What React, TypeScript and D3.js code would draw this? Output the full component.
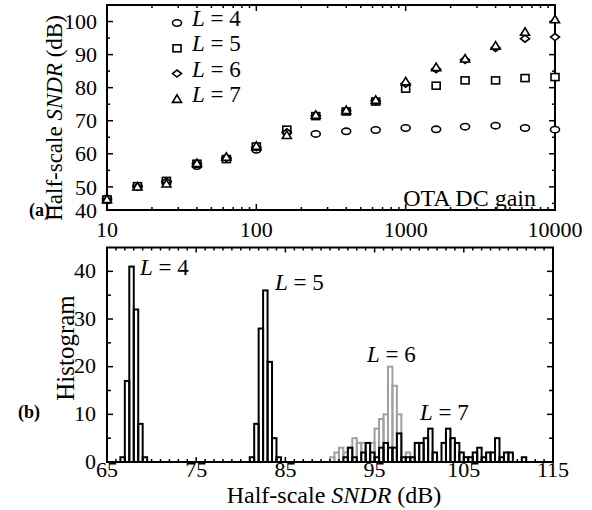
import React from "react";
import { scaleLog, scaleLinear, range } from "d3";

// ---- data: (a) SNDR vs OTA DC gain ----
const gain = [10, 16, 25, 40, 63, 100, 160, 250, 400, 630, 1000, 1600, 2500, 4000, 6300, 10000];
const sndrL4 = [46.5, 50.2, 51.5, 56.3, 58.5, 61.2, 66.5, 66.0, 66.8, 67.2, 67.8, 67.4, 68.2, 68.5, 67.8, 67.3];
const sndrL5 = [46.2, 50.2, 51.8, 57.0, 58.4, 62.2, 67.3, 71.4, 72.8, 75.8, 79.7, 80.6, 82.2, 82.2, 82.9, 83.2];
const sndrL6 = [46.0, 50.0, 51.6, 57.0, 58.7, 62.0, 66.5, 71.5, 73.0, 76.0, 81.2, 85.6, 88.4, 92.0, 94.8, 95.3];
const sndrL7 = [46.3, 50.1, 51.0, 57.2, 59.1, 62.4, 65.7, 71.8, 73.2, 76.3, 81.9, 86.2, 88.8, 92.7, 96.9, 100.7];
const seriesNames = ["4", "5", "6", "7"];
const gainTicks = [10, 100, 1000, 10000];
const sndrTicks = [40, 50, 60, 70, 80, 90, 100];

// ---- data: (b) histograms, 0.5 dB bins ----
const binWidth = 0.5;
const histL4Start = 66.5;
const histL4 = [1, 17, 41, 32, 8, 1];
const histL5Start = 81.0;
const histL5 = [1, 8, 28, 36, 21, 5, 1];
const histL6Start = 90.0;
const histL6 = [1, 2, 3, 2, 3, 5, 4, 4, 4, 4, 7, 9, 10, 20, 16, 10, 0, 2];
const histL7Start = 91.5;
const histL7 = [1, 3, 1, 0, 2, 4, 2, 1, 3, 4, 3, 3, 6, 1, 1, 1, 4, 4, 5, 7, 2, 0, 4, 7, 5, 4, 2, 1, 1, 2, 3, 1, 2, 2, 5, 1, 2, 2, 0, 0, 1];
const histXTicks = [65, 75, 85, 95, 105, 115];
const histYTicks = [0, 10, 20, 30, 40];

const FONT = "'Liberation Serif', 'Times New Roman', serif";

const Marker = ({ kind, x, y }: { kind: number; x: number; y: number }) => {
  const st = { fill: "white", stroke: "black", strokeWidth: 1.6 };
  if (kind === 0) return <ellipse cx={x} cy={y} rx={4.5} ry={3.2} {...st} />;
  if (kind === 1) return <rect x={x - 4} y={y - 3.5} width={8} height={7} {...st} />;
  if (kind === 2) return <path d={`M${x - 4.5},${y}L${x},${y - 3.5}L${x + 4.5},${y}L${x},${y + 3.5}Z`} {...st} />;
  return <path d={`M${x - 4.5},${y + 3.5}L${x},${y - 4}L${x + 4.5},${y + 3.5}Z`} {...st} />;
};

const Label = ({ x, y, n, size = 23 }: { x: number; y: number; n: string; size?: number }) => (
  <text x={x} y={y} fontSize={size} fontFamily={FONT}>
    <tspan fontStyle="italic">L</tspan>
    <tspan> = {n}</tspan>
  </text>
);

export default function App() {
  // panel (a)
  const ax = scaleLog().domain([10, 10000]).range([107, 555]);
  const ay = scaleLinear().domain([43, 105]).range([210, 5]).clamp(true);
  const series = [sndrL4, sndrL5, sndrL6, sndrL7];
  const minorGain = ax.ticks().filter((t) => !gainTicks.includes(t));
  const minorSndr = range(45, 105, 5).filter((t) => t % 10 !== 0);

  // panel (b)
  const bx = scaleLinear().domain([65, 115]).range([107, 553]);
  const by = scaleLinear().domain([0, 45]).range([462, 247.5]);
  const bw = bx(65 + binWidth) - bx(65);
  const hists = [
    { start: histL4Start, counts: histL4, color: "black" },
    { start: histL5Start, counts: histL5, color: "black" },
    { start: histL6Start, counts: histL6, color: "#a0a0a0" },
    { start: histL7Start, counts: histL7, color: "black" },
  ];
  const minorHist = range(66, 115, 1).filter((t) => (t - 65) % 10 !== 0);
  const minorCount = range(5, 45, 5).filter((t) => t % 10 !== 0);

  return (
    <svg width={592} height={510} style={{ position: "absolute", left: 0, top: 0, background: "white" }}>
      {/* ---------- panel (a) ---------- */}
      <g fontFamily={FONT} fontSize={22}>
        {gainTicks.map((t) => (
          <g key={t}>
            <line x1={ax(t)} x2={ax(t)} y1={210} y2={204} stroke="black" strokeWidth={1.5} />
            <line x1={ax(t)} x2={ax(t)} y1={5} y2={11} stroke="black" strokeWidth={1.5} />
            <text x={ax(t)} y={237} textAnchor="middle">{t}</text>
          </g>
        ))}
        {minorGain.map((t) => (
          <g key={t}>
            <line x1={ax(t)} x2={ax(t)} y1={210} y2={207} stroke="black" strokeWidth={1.5} />
            <line x1={ax(t)} x2={ax(t)} y1={5} y2={8} stroke="black" strokeWidth={1.5} />
          </g>
        ))}
        {sndrTicks.map((t) => (
          <g key={t}>
            {t > 43 && <line x1={107} x2={113} y1={ay(t)} y2={ay(t)} stroke="black" strokeWidth={1.5} />}
            {t > 43 && <line x1={555} x2={549} y1={ay(t)} y2={ay(t)} stroke="black" strokeWidth={1.5} />}
            <text x={97} y={ay(t)} dy="0.35em" textAnchor="end">{t}</text>
          </g>
        ))}
        {minorSndr.map((t) => (
          <g key={t}>
            <line x1={107} x2={110} y1={ay(t)} y2={ay(t)} stroke="black" strokeWidth={1.5} />
            <line x1={555} x2={552} y1={ay(t)} y2={ay(t)} stroke="black" strokeWidth={1.5} />
          </g>
        ))}
        <rect x={107} y={5} width={448} height={205} fill="none" stroke="black" strokeWidth={2} />
        <text x={536} y={206} textAnchor="end" fontSize={24}>OTA DC gain</text>
        <text transform="translate(62,118) rotate(-90)" textAnchor="middle" fontSize={23}>
          Half-scale <tspan fontStyle="italic">SNDR</tspan> (dB)
        </text>
        <text x={29} y={216} fontWeight="bold" fontSize={18}>(a)</text>

        {series.map((s, k) =>
          s.map((v, i) => <Marker key={`${k}-${i}`} kind={k} x={ax(gain[i])} y={ay(v)} />)
        )}
        {seriesNames.map((n, k) => (
          <g key={n}>
            <Marker kind={k} x={177} y={23 + k * 25.3} />
            <Label x={192} y={26 + k * 25.3} n={n} />
          </g>
        ))}
      </g>

      {/* ---------- panel (b) ---------- */}
      <g fontFamily={FONT} fontSize={22}>
        {hists.map((h, k) =>
          h.counts.map((c, i) =>
            c > 0 ? (
              <rect
                key={`${k}-${i}`}
                x={bx(h.start + i * binWidth)}
                y={by(c)}
                width={bw}
                height={by(0) - by(c)}
                fill="none"
                stroke={h.color}
                strokeWidth={2}
              />
            ) : null
          )
        )}
        {histXTicks.map((t) => (
          <g key={t}>
            <line x1={bx(t)} x2={bx(t)} y1={462} y2={457} stroke="black" strokeWidth={1.5} />
            <line x1={bx(t)} x2={bx(t)} y1={247.5} y2={252.5} stroke="black" strokeWidth={1.5} />
            <text x={bx(t)} y={477} textAnchor="middle">{t}</text>
          </g>
        ))}
        {minorHist.map((t) => (
          <g key={t}>
            <line x1={bx(t)} x2={bx(t)} y1={462} y2={459} stroke="black" strokeWidth={1.5} />
            <line x1={bx(t)} x2={bx(t)} y1={247.5} y2={250.5} stroke="black" strokeWidth={1.5} />
          </g>
        ))}
        {histYTicks.map((t) => (
          <g key={t}>
            <line x1={107} x2={113} y1={by(t)} y2={by(t)} stroke="black" strokeWidth={1.5} />
            <line x1={553} x2={547} y1={by(t)} y2={by(t)} stroke="black" strokeWidth={1.5} />
            <text x={96} y={by(t)} dy="0.3em" textAnchor="end">{t}</text>
          </g>
        ))}
        {minorCount.map((t) => (
          <g key={t}>
            <line x1={107} x2={111} y1={by(t)} y2={by(t)} stroke="black" strokeWidth={1.5} />
            <line x1={553} x2={549} y1={by(t)} y2={by(t)} stroke="black" strokeWidth={1.5} />
          </g>
        ))}
        <rect x={107} y={247.5} width={446} height={214.5} fill="none" stroke="black" strokeWidth={2} />
        <text x={334} y={503} textAnchor="middle" fontSize={24}>
          Half-scale <tspan fontStyle="italic">SNDR</tspan> (dB)
        </text>
        <text transform="translate(74,348) rotate(-90)" textAnchor="middle" fontSize={25}>Histogram</text>
        <text x={18} y={418} fontWeight="bold" fontSize={18}>(b)</text>

        <Label x={140} y={275} n="4" />
        <Label x={275} y={290} n="5" />
        <Label x={367} y={362} n="6" />
        <Label x={420} y={420} n="7" />
      </g>
    </svg>
  );
}
